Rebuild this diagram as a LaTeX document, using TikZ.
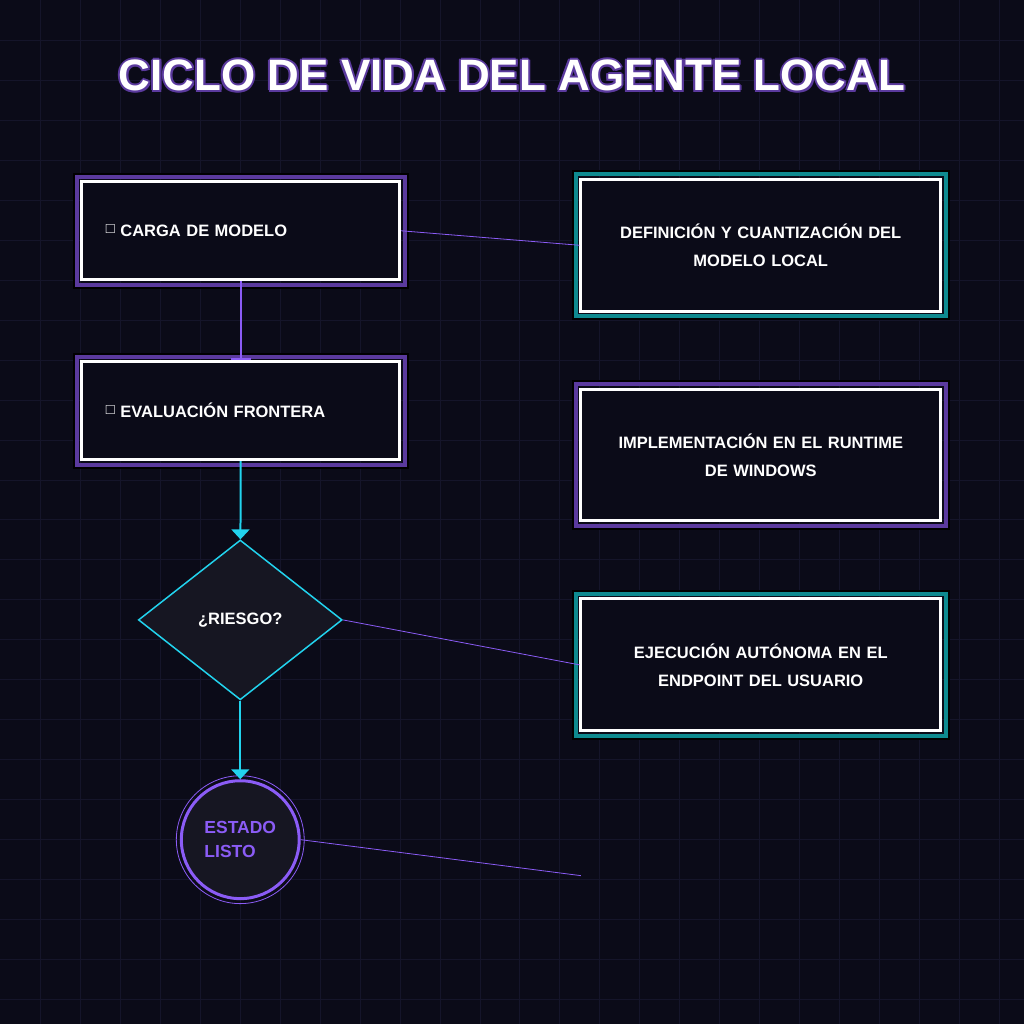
\documentclass[tikz,border=0pt]{standalone}
\usepackage{fontspec}
\setmainfont{Liberation Sans}
\newfontfamily\symfont{DejaVu Sans}
\usetikzlibrary{arrows.meta, shapes.geometric, positioning}
\definecolor{bgdark}{HTML}{0B0B18}
\definecolor{gridln}{HTML}{15152A}
\definecolor{neonpurple}{HTML}{8B5CF6}
\definecolor{darkpurple}{HTML}{5B3A9E}
\definecolor{neoncyan}{HTML}{22D3EE}
\definecolor{darkteal}{HTML}{0E8A8F}
\definecolor{shapefill}{HTML}{161622}
\begin{document}
\begin{tikzpicture}[x=1pt, y=-1pt,
  box/.style={rectangle, draw=white, line width=3pt, fill=bgdark,
    minimum width=318pt, minimum height=98pt, font=\bfseries\fontsize{16.5}{20}\selectfont,
    text=white, text width=270pt, align=left},
  infobox/.style={box, minimum width=360pt, minimum height=132pt, text width=340pt,
    align=center, font=\bfseries\fontsize{16.5}{28}\selectfont},
  frame/.style={line width=4pt},
  link/.style={neonpurple, line width=0.8pt},
  flow/.style={neoncyan, line width=2pt, -{Triangle[width=18pt,length=10pt]}},
  ]
  % background and grid
  \fill[bgdark] (0,0) rectangle (1024,1024);
  \foreach \g in {40,80,...,1000}{
    \draw[gridln, line width=1pt] (\g,0) -- (\g,1024);
    \draw[gridln, line width=1pt] (0,\g) -- (1024,\g);
  }
  \useasboundingbox (0,0) rectangle (1024,1024);

  % title
  \foreach \dx/\dy in {-2/0, 2/0, 0/-2, 0/2, -1.5/-1.5, 1.5/1.5, -1.5/1.5, 1.5/-1.5}
    \node[text=darkpurple, font=\bfseries\fontsize{44}{50}\selectfont] at (512+\dx,75+\dy) {CICLO DE VIDA DEL AGENTE LOCAL};
  \node[text=white, font=\bfseries\fontsize{44}{50}\selectfont] (title) at (512,75) {CICLO DE VIDA DEL AGENTE LOCAL};

  % left flow
  \node[box] (carga) at (240.5,230.5) {\raisebox{3pt}{{\symfont\normalfont\fontsize{15}{15}\selectfont □}} CARGA DE MODELO\\[12pt]};
  \node[box] (eval) at (240.5,410.5) {\raisebox{3pt}{{\symfont\normalfont\fontsize{15}{15}\selectfont □}} EVALUACIÓN FRONTERA\\[12pt]};
  \node[diamond, draw=neoncyan, fill=shapefill, line width=1.5pt, aspect=1.27,
    minimum width=204pt, minimum height=160pt, text=white,
    font=\bfseries\fontsize{16.5}{20}\selectfont] (riesgo) at (240,620) {¿RIESGO?};
  \node[circle, draw=neonpurple, fill=shapefill, line width=3pt, minimum size=118pt,
    text=neonpurple, align=left, font=\bfseries\fontsize{17.5}{24}\selectfont] (listo) at (240,840) {ESTADO\\ LISTO};
  \draw[neonpurple, line width=0.8pt] (listo.center) circle (64pt);

  % right descriptions
  \node[infobox] (definicion) at (761,245) {DEFINICIÓN Y CUANTIZACIÓN DEL\\MODELO LOCAL};
  \node[infobox] (runtime) at (761,455) {IMPLEMENTACIÓN EN EL RUNTIME\\DE WINDOWS};
  \node[infobox] (ejecucion) at (761,665) {EJECUCIÓN AUTÓNOMA EN EL\\ENDPOINT DEL USUARIO};
  \coordinate (libre) at (581,876);

  % outer frames
  \foreach \n/\c in {carga/darkpurple, eval/darkpurple, runtime/darkpurple, definicion/darkteal, ejecucion/darkteal}{
    \draw[\c, frame] ([shift={(-3.5,-3.5)}]\n.north west) rectangle ([shift={(3.5,3.5)}]\n.south east);
    \draw[black, line width=2pt] ([shift={(-6.5,-6.5)}]\n.north west) rectangle ([shift={(6.5,6.5)}]\n.south east);
  }

  % connectors
  \draw[neonpurple, line width=2pt, -{Bar[width=20pt]}] (carga) -- (eval);
  \draw[flow] (eval) -- (riesgo);
  \draw[flow] (riesgo) -- (listo);
  \draw[link] (carga.east) -- (definicion.west);
  \draw[link] (riesgo.east) -- (ejecucion.west);
  \draw[link] (listo.east) -- (libre);
\end{tikzpicture}
\end{document}
